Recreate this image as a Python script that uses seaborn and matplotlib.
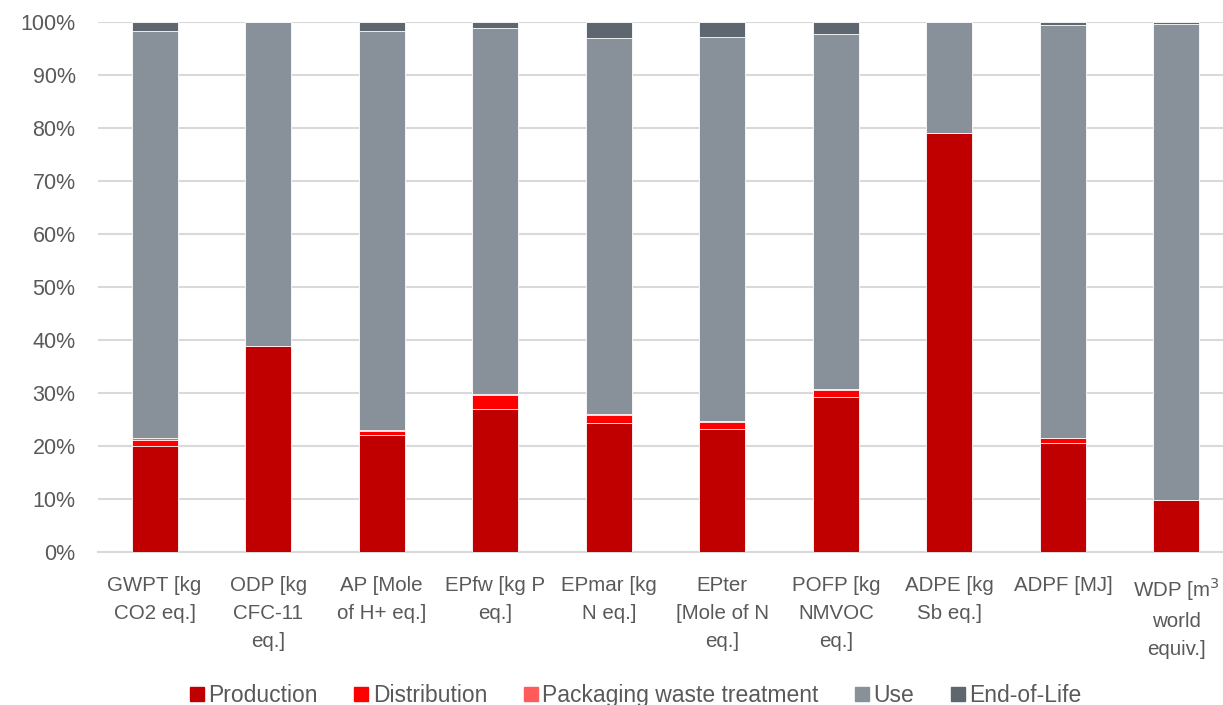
"""
Stacked 100% bars: share of each life-cycle stage per impact category.
"""

import matplotlib

matplotlib.use("Agg")
import matplotlib.pyplot as plt
import numpy as np
import pandas as pd
import seaborn as sns
from matplotlib.lines import Line2D

categories = [
    "GWPT [kg\nCO2 eq.]",
    "ODP [kg\nCFC-11\neq.]",
    "AP [Mole\nof H+ eq.]",
    "EPfw [kg P\neq.]",
    "EPmar [kg\nN eq.]",
    "EPter\n[Mole of N\neq.]",
    "POFP [kg\nNMVOC\neq.]",
    "ADPE [kg\nSb eq.]",
    "ADPF [MJ]",
    "WDP [m$^3$\nworld\nequiv.]",
]
stages = ["Production", "Distribution", "Packaging waste treatment", "Use", "End-of-Life"]

# shares in percent
production = [20.0, 38.9, 22.0, 27.0, 24.3, 23.2, 29.2, 79.0, 20.6, 9.8]
distribution = [1.1, 0.0, 0.9, 2.6, 1.5, 1.4, 1.4, 0.0, 0.9, 0.0]
packaging = [0.4, 0.0, 0.2, 0.2, 0.2, 0.1, 0.2, 0.0, 0.1, 0.0]
use = [76.8, 61.1, 75.2, 69.1, 71.0, 72.5, 66.9, 21.0, 77.9, 89.8]
end_of_life = [1.7, 0.0, 1.7, 1.1, 3.0, 2.8, 2.3, 0.0, 0.5, 0.4]

colors = ["#C00000", "#FF0000", "#FF5B5B", "#88919A", "#5E666F"]
text_color = "#595959"

df = pd.DataFrame(
    {
        "category": categories,
        "Production": production,
        "Distribution": distribution,
        "Packaging waste treatment": packaging,
        "Use": use,
        "End-of-Life": end_of_life,
    }
)
cum = df[stages].cumsum(axis=1)

sns.set_theme(style="white")
plt.rcParams["font.family"] = ["Liberation Sans", "DejaVu Sans"]

fig = plt.figure(figsize=(12.23, 7.05), dpi=100)
ax = fig.add_axes([0.080, 0.217, 0.920, 0.752])

# draw cumulative totals from the top stage down so each layer shows its own slice
for stage, color in reversed(list(zip(stages, colors))):
    sns.barplot(
        x=df["category"],
        y=cum[stage],
        color=color,
        width=0.405,
        edgecolor="white",
        linewidth=0.6,
        saturation=1,
        ax=ax,
        zorder=3,
    )

ax.set_ylim(0, 100)
ax.set_xlim(-0.5, 9.41)
ax.set_yticks(np.arange(0, 101, 10))
ax.set_yticklabels([f"{v}%" for v in range(0, 101, 10)])
ax.yaxis.grid(True, color="#D9D9D9", linewidth=1.5, zorder=0)
ax.set_axisbelow(True)
for side in ["top", "right", "left"]:
    ax.spines[side].set_visible(False)
ax.spines["bottom"].set_color("#D9D9D9")
ax.spines["bottom"].set_linewidth(1.5)
ax.set_xlabel("")
ax.set_ylabel("")
ax.tick_params(axis="y", length=0, pad=16, labelsize=15.5, labelcolor=text_color)
ax.tick_params(axis="x", length=0, pad=17, labelsize=14.8, labelcolor=text_color)
for lbl in ax.get_xticklabels():
    lbl.set_linespacing(1.6)

handles = [
    Line2D([], [], marker="s", linestyle="", markersize=10, markerfacecolor=c, markeredgecolor=c)
    for c in colors
]
fig.legend(
    handles,
    stages,
    loc="center",
    bbox_to_anchor=(0.518, 0.013),
    ncol=5,
    frameon=False,
    fontsize=16.5,
    labelcolor=text_color,
    handletextpad=0.0,
    columnspacing=1.4,
    handlelength=1.0,
)

fig.savefig("out.png", dpi=100)
plt.close(fig)
